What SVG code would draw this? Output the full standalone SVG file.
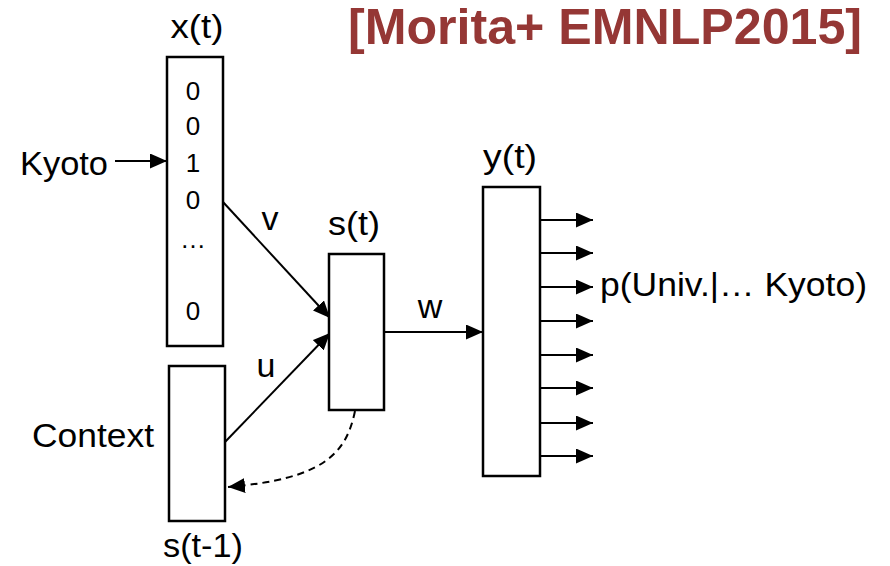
<svg xmlns="http://www.w3.org/2000/svg" width="890" height="566" viewBox="0 0 890 566">
<style>
  text { font-family: "Liberation Sans", Arial, sans-serif; fill: #000; }
  .lbl { font-size: 34px; }
  .dig { font-size: 26px; text-anchor: middle; }
  .mid { text-anchor: middle; }
  .box { fill: #fff; stroke: #000; stroke-width: 2.5; }
  .ln { fill: none; stroke: #000; stroke-width: 2; }
  .title { font-size: 50px; font-weight: bold; fill: #953735; }
</style>
<defs>
  <marker id="ah" viewBox="0 0 17 15" refX="17" refY="7.5" markerWidth="17" markerHeight="15" markerUnits="userSpaceOnUse" orient="auto">
    <path d="M0,0 L17,7.5 L0,15 z" fill="#000"/>
  </marker>
</defs>
<rect width="890" height="566" fill="#fff"/>
<text class="title" x="348" y="44" textLength="514" lengthAdjust="spacingAndGlyphs">[Morita+ EMNLP2015]</text>

<g id="connectors">
  <line class="ln" x1="115" y1="161" x2="167" y2="161" marker-end="url(#ah)"/>
  <line class="ln" x1="223" y1="202" x2="330" y2="318" marker-end="url(#ah)"/>
  <line class="ln" x1="225" y1="442" x2="330" y2="333" marker-end="url(#ah)"/>
  <line class="ln" x1="384" y1="332" x2="483" y2="332" marker-end="url(#ah)"/>
  <path class="ln" d="M355,411 C346,455 322,479 228,487" stroke-dasharray="7,5" marker-end="url(#ah)"/>
  <line class="ln" x1="540" y1="220" x2="593" y2="220" marker-end="url(#ah)"/>
  <line class="ln" x1="540" y1="253" x2="593" y2="253" marker-end="url(#ah)"/>
  <line class="ln" x1="540" y1="287" x2="593" y2="287" marker-end="url(#ah)"/>
  <line class="ln" x1="540" y1="321" x2="593" y2="321" marker-end="url(#ah)"/>
  <line class="ln" x1="540" y1="355" x2="593" y2="355" marker-end="url(#ah)"/>
  <line class="ln" x1="540" y1="388" x2="593" y2="388" marker-end="url(#ah)"/>
  <line class="ln" x1="540" y1="423" x2="593" y2="423" marker-end="url(#ah)"/>
  <line class="ln" x1="540" y1="456" x2="593" y2="456" marker-end="url(#ah)"/>
  <text class="lbl mid" x="270" y="230">v</text>
  <text class="lbl mid" x="266" y="377">u</text>
  <text class="lbl mid" x="430" y="318">w</text>
</g>

<g id="kyoto">
  <text class="lbl" x="20" y="175" textLength="88" lengthAdjust="spacingAndGlyphs">Kyoto</text>
</g>

<g id="x_t">
  <rect class="box" x="167" y="57" width="56" height="289"/>
  <text class="lbl mid" x="197" y="38" textLength="53" lengthAdjust="spacingAndGlyphs">x(t)</text>
  <text class="dig" x="193" y="100">0</text>
  <text class="dig" x="193" y="135">0</text>
  <text class="dig" x="193" y="172">1</text>
  <text class="dig" x="193" y="209">0</text>
  <text class="dig" x="193" y="248">…</text>
  <text class="dig" x="193" y="320">0</text>
</g>

<g id="s_t1">
  <rect class="box" x="169" y="366" width="56" height="155"/>
  <text class="lbl" x="32" y="447" textLength="122" lengthAdjust="spacingAndGlyphs">Context</text>
  <text class="lbl" x="163" y="557" textLength="80" lengthAdjust="spacingAndGlyphs">s(t-1)</text>
</g>

<g id="s_t">
  <rect class="box" x="329" y="254" width="55" height="156"/>
  <text class="lbl mid" x="354" y="235" textLength="52" lengthAdjust="spacingAndGlyphs">s(t)</text>
</g>

<g id="y_t">
  <rect class="box" x="483" y="187" width="57" height="289"/>
  <text class="lbl mid" x="510" y="168" textLength="54" lengthAdjust="spacingAndGlyphs">y(t)</text>
  <text class="lbl" x="600" y="296" textLength="267" lengthAdjust="spacingAndGlyphs">p(Univ.|… Kyoto)</text>
</g>
</svg>
